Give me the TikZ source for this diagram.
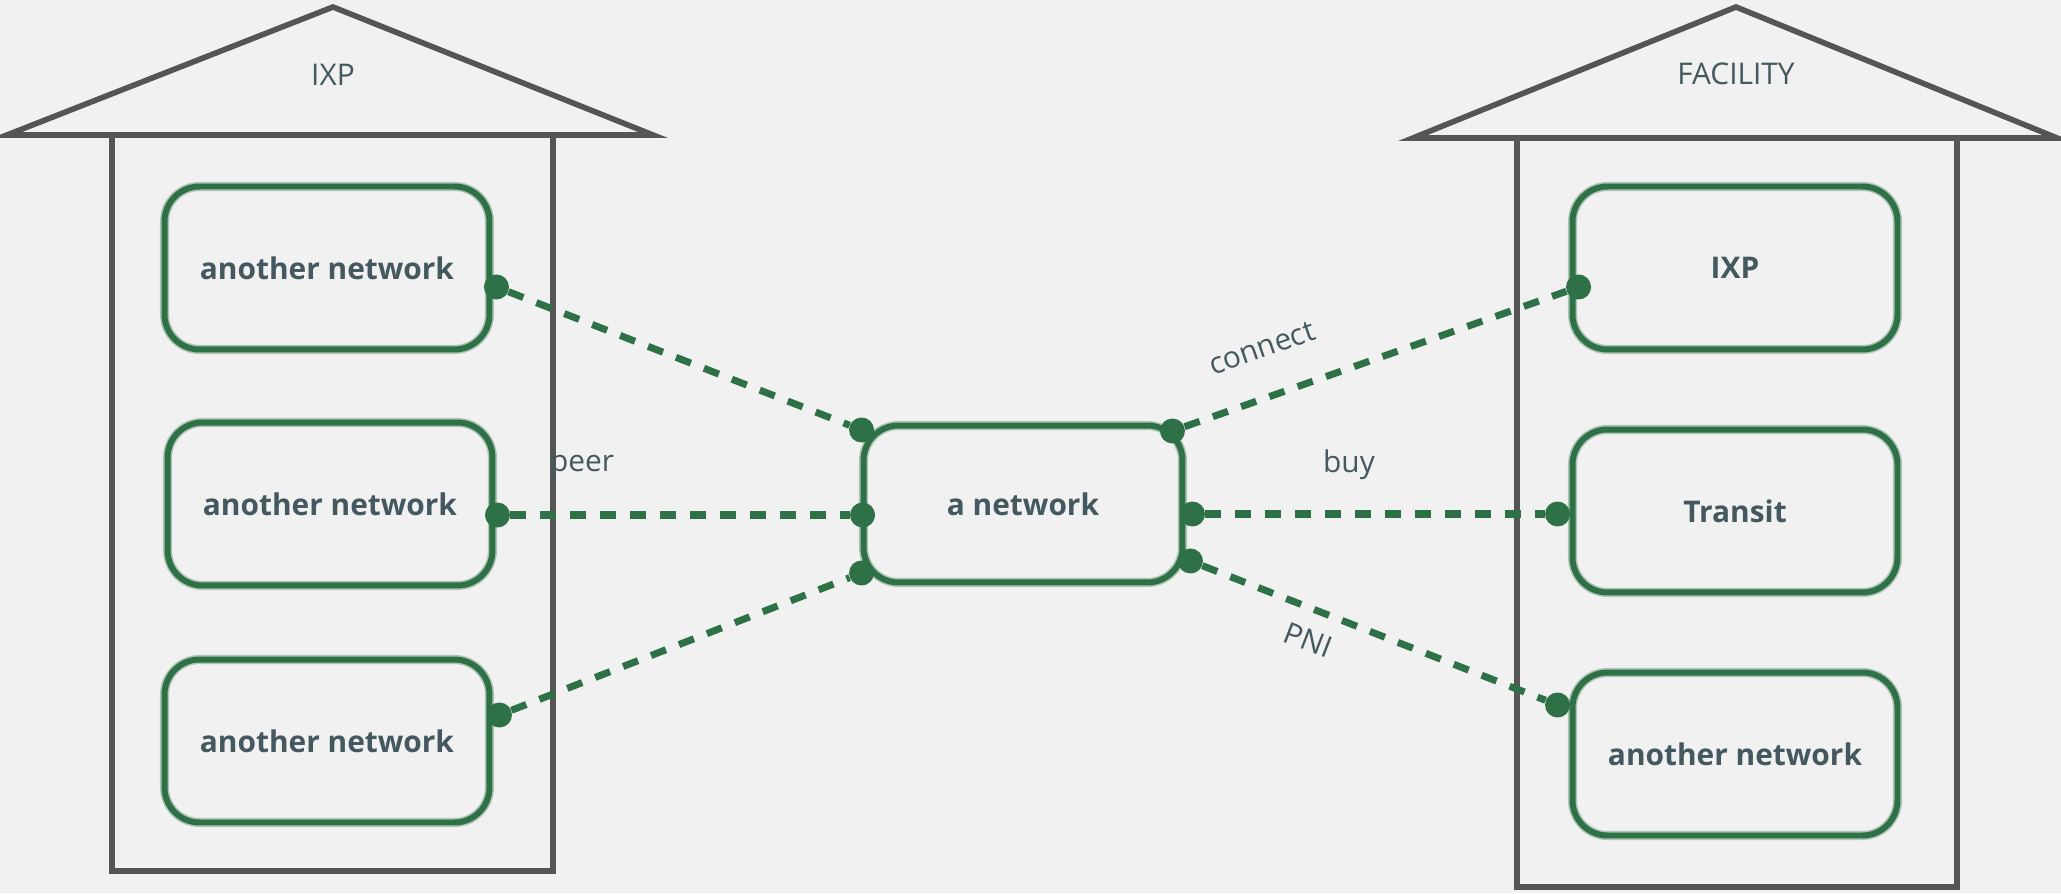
\documentclass[tikz,border=0pt]{standalone}
\usepackage{fontspec}
\setmainfont{Open Sans}
\usepackage{tikz}
\usetikzlibrary{positioning}

\definecolor{bgColor}{RGB}{241,241,241}
\definecolor{houseColor}{RGB}{85,85,85}
\definecolor{netColor}{RGB}{47,113,70}
\definecolor{txtColor}{RGB}{68,89,95}

\tikzset{
  house/.style={draw=houseColor, line width=3.2pt, line join=miter},
  netbox/.style={draw=netColor, line width=3.4pt, rounded corners=0.7cm, minimum width=6.5cm, minimum height=3.26cm, text=txtColor, font=\fontsize{17}{20}\selectfont\bfseries,
    preaction={draw=netColor, draw opacity=0.35, line width=5.2pt}},
  dot/.style={circle, fill=netColor, inner sep=0pt, minimum size=0.5cm},
  link/.style={draw=netColor, line width=4pt, dash pattern=on 0.32cm off 0.28cm},
  lbl/.style={text=txtColor, font=\fontsize{17}{20}\selectfont}
}

\begin{document}
\begin{tikzpicture}[x=0.02cm,y=0.02cm]
\fill[bgColor] (0,0) rectangle (2061,893);
\useasboundingbox (0,0) rectangle (2061,893);
% houses
\draw[house] (333,886) -- (7,758) -- (653,758) -- cycle;
\draw[house] (112,758) rectangle (553,22);
\node[lbl] (ixphouse) at (333,818) {IXP};
\draw[house] (1736,886) -- (1413,755) -- (2057,755) -- cycle;
\draw[house] (1517,755) rectangle (1957,6);
\node[lbl] (facility) at (1736,819) {FACILITY};
% networks
\node[netbox] (a1) at (327,625) {another network};
\node[netbox] (a2) at (330,389) {another network};
\node[netbox] (a3) at (327,152) {another network};
\node[netbox, minimum width=6.38cm, minimum height=3.14cm] (net) at (1023,389) {a network};
\node[netbox] (ixp) at (1735,625) {IXP};
\node[netbox] (transit) at (1735,382) {Transit};
\node[netbox] (a4) at (1735,139) {another network};
% connection points
\node[dot] (d1) at ([shift={(4,-19)}]a1.east) {};
\node[dot] (d2) at ([shift={(2,-11)}]a2.east) {};
\node[dot] (d3) at ([shift={(7,26)}]a3.east) {};
\node[dot] (n1) at ([shift={(1,74)}]net.west) {};
\node[dot] (n2) at ([shift={(2,-11)}]net.west) {};
\node[dot] (n3) at ([shift={(1,-69)}]net.west) {};
\node[dot] (n4) at ([shift={(-13,73)}]net.east) {};
\node[dot] (n5) at ([shift={(7,-10)}]net.east) {};
\node[dot] (n6) at ([shift={(5,-57)}]net.east) {};
\node[dot] (i1) at ([shift={(9,-19)}]ixp.west) {};
\node[dot] (t1) at ([shift={(-12,-3)}]transit.west) {};
\node[dot] (p1) at ([shift={(-12,49)}]a4.west) {};
% links
\draw[link] (d1) -- (n1);
\draw[link] (d2) -- (n2);
\draw[link] (d3) -- (n3);
\draw[link] (n4) -- (i1);
\draw[link] (n5) -- (t1);
\draw[link] (n6) -- (p1);
\node[lbl] (peer) at (582,426) {peer};
\node[lbl, rotate=19.3] (connect) at (1262,545) {connect};
\node[lbl] (buy) at (1349,428) {buy};
\node[lbl, rotate=-21.2] (pni) at (1308,253) {PNI};
\end{tikzpicture}
\end{document}
